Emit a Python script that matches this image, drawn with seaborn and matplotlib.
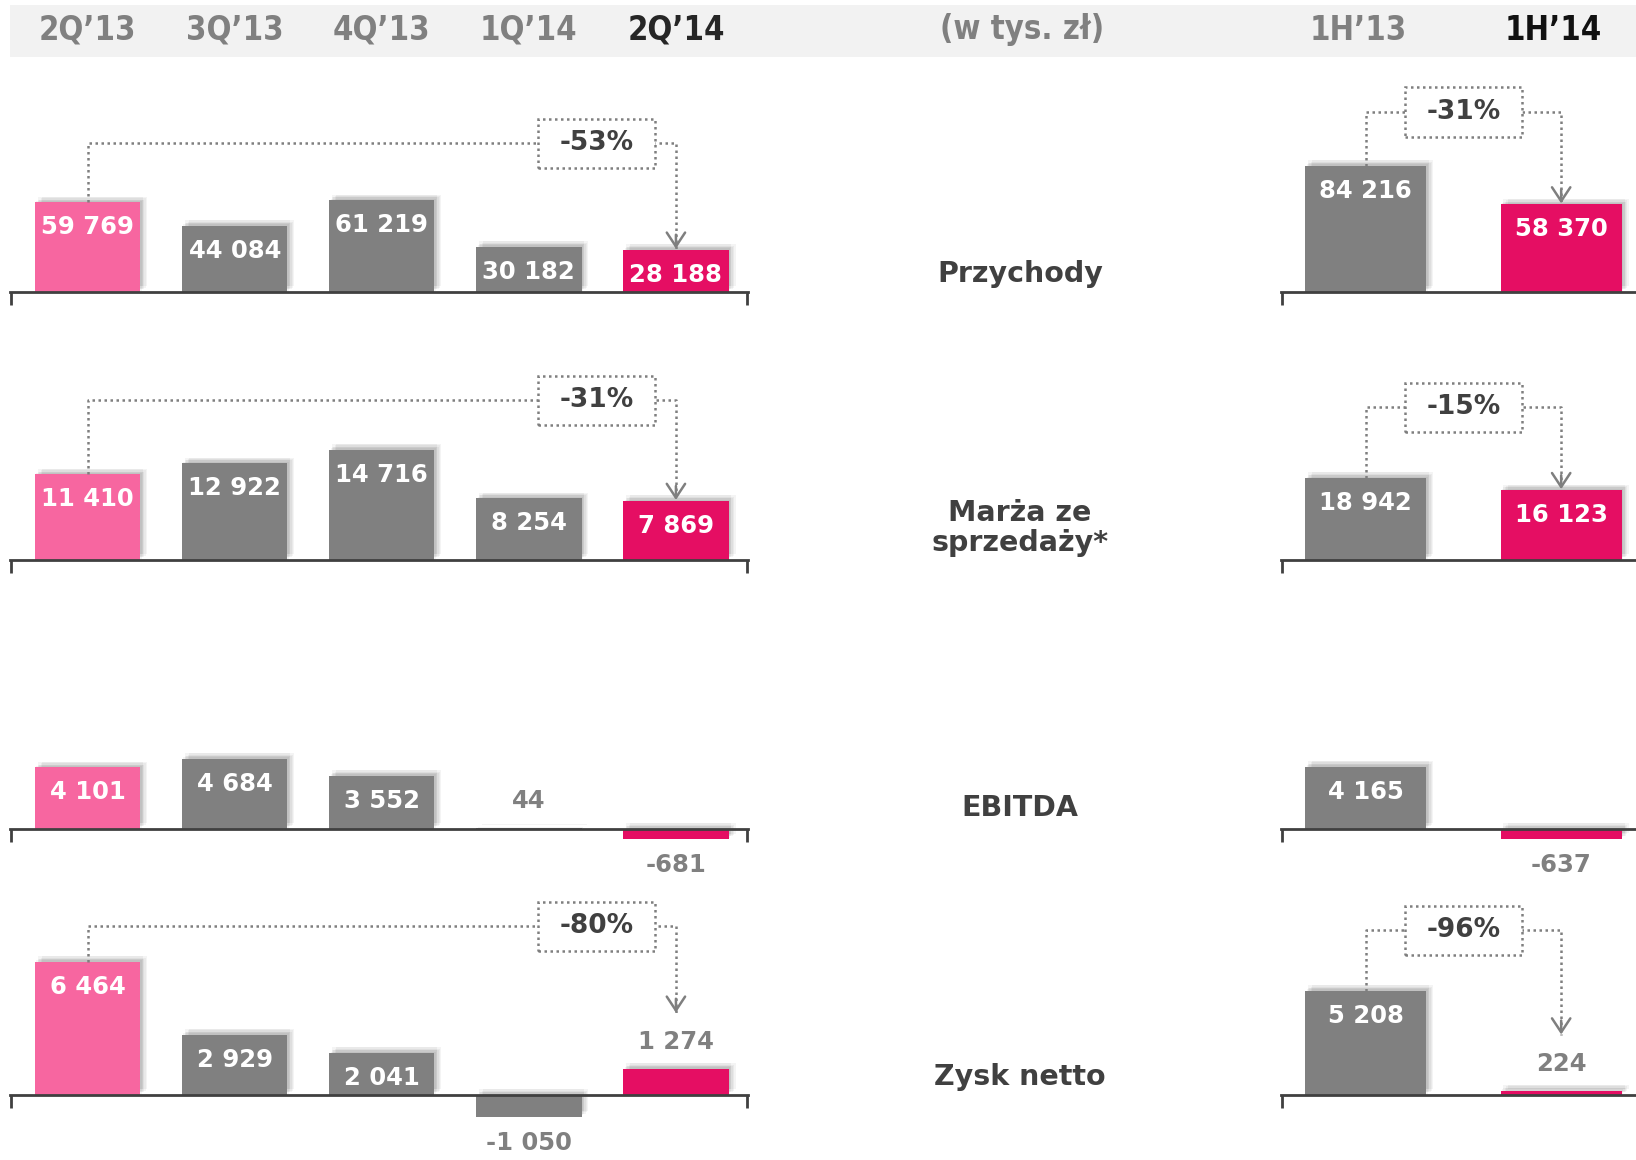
import numpy as np
import pandas as pd
import matplotlib
matplotlib.use("Agg")
import matplotlib.pyplot as plt
import matplotlib.patheffects as pe
from matplotlib.patches import Rectangle
from matplotlib import transforms
import seaborn as sns

# dane (w tys. zł)
kwartaly = ["2Q’13", "3Q’13", "4Q’13", "1Q’14", "2Q’14"]
polrocza = ["1H’13", "1H’14"]
wskazniki = ["Przychody", "Marża ze\nsprzedaży*", "EBITDA", "Zysk netto"]

przychody_q = [59769, 44084, 61219, 30182, 28188]
marza_q = [11410, 12922, 14716, 8254, 7869]
ebitda_q = [4101, 4684, 3552, 44, -681]
zysk_q = [6464, 2929, 2041, -1050, 1274]

przychody_h = [84216, 58370]
marza_h = [18942, 16123]
ebitda_h = [4165, -637]
zysk_h = [5208, 224]

zmiana_q = ["-53%", "-31%", None, "-80%"]
zmiana_h = ["-31%", "-15%", None, "-96%"]

# kolory
ROZ = "#f766a0"
MAGENTA = "#e50e63"
SZARY = "#808080"
CIEMNY = "#404040"
LINIA = "#7f7f7f"
kolory_q = [ROZ, SZARY, SZARY, SZARY, MAGENTA]
kolory_h = [SZARY, MAGENTA]

W, H = 1636, 1160
sns.set_style("white")
plt.rcParams["font.family"] = ["DejaVu Sans"]

fig = plt.figure(figsize=(W / 100, H / 100), dpi=100)

# uklad wierszy (piksele)
wiersze = [
    dict(base=292, up=240, down=30, s_q=1.5, s_h=1.5, lev_q=149, lev_h=180, ly=274),
    dict(base=560, up=230, down=30, s_q=7.5, s_h=4.33, lev_q=160, lev_h=153, ly=528),
    dict(base=829, up=150, down=60, s_q=15.0, s_h=15.0, lev_q=0, lev_h=0, ly=808),
    dict(base=1095, up=240, down=65, s_q=20.6, s_h=20.0, lev_q=169, lev_h=165, ly=1077),
]
dane_q = [przychody_q, marza_q, ebitda_q, zysk_q]
dane_h = [przychody_h, marza_h, ebitda_h, zysk_h]

LEWY = dict(x0=10.4, x1=748, xlim=(-0.525, 4.49), width=0.716, ticks=[-0.52, 4.485])
PRAWY = dict(x0=1281, x1=1636, xlim=(-0.434, 1.383), width=0.62, ticks=[-0.43])

# miekki cien slupkow
cien = [pe.SimplePatchShadow(offset=(dx, dy), shadow_rgbFace="black", alpha=0.045)
        for dx, dy in [(1, 1), (2, 2), (3, 2), (4, 3), (5, 4), (2, 4)]]


def panel(row, cfg, cats, vals, colors, s):
    base, up, down = row["base"], row["up"], row["down"]
    ax = fig.add_axes([cfg["x0"] / W, (H - base - down) / H,
                       (cfg["x1"] - cfg["x0"]) / W, (up + down) / H])
    ax.patch.set_alpha(0)
    df = pd.DataFrame({"okres": cats, "wartosc": vals})
    sns.barplot(data=df, x="okres", y="wartosc", hue="okres", order=cats,
                hue_order=cats, palette=colors, width=cfg["width"],
                saturation=1, errorbar=None, legend=False, ax=ax)
    for p in ax.patches:
        p.set_linewidth(0)
        p.set_path_effects(cien + [pe.Normal()])
    ax.set_xlim(*cfg["xlim"])
    ax.set_ylim(-down / s * 1000, up / s * 1000)
    for sp in ["top", "right", "left"]:
        ax.spines[sp].set_visible(False)
    ax.spines["bottom"].set_position(("data", 0))
    ax.spines["bottom"].set_color(CIEMNY)
    ax.spines["bottom"].set_linewidth(2)
    ax.spines["bottom"].set_zorder(6)
    ax.set_xticks(cfg["ticks"])
    ax.set_xticklabels([])
    ax.tick_params(axis="x", bottom=True, length=9, width=2, color=CIEMNY,
                   direction="out")
    ax.set_yticks([])
    ax.set_xlabel("")
    ax.set_ylabel("")

    for i, v in enumerate(vals):
        txt = f"{v:,}".replace(",", " ")
        h_px = abs(v) * s / 1000
        if v > 0 and h_px >= 40:
            off, col = -25, "white"
        elif v > 0:
            off, col = 27, SZARY
        else:
            off, col = -26, SZARY
        ax.annotate(txt, (i, v), xytext=(0, off), textcoords="offset pixels",
                    ha="center", va="center", fontsize=17.5, fontweight="bold",
                    color=col, zorder=7)
    return ax


def klamra(ax, vals, i0, i1, box_x, lev_px, s, px_unit, text):
    to_d = lambda px: px / s * 1000
    level = to_d(lev_px)
    v1 = vals[i1]
    tip = v1 + (to_d(55) if v1 * s / 1000 < 40 else 0) + to_d(1)
    kropki = (0, (1, 1.4))
    ax.plot([i0, i0, i1, i1], [vals[i0], level, level, tip], color=LINIA, lw=1.8,
            ls=kropki, zorder=3)
    bw = 117 / px_unit
    bh = to_d(49)
    ax.add_patch(Rectangle((box_x - bw / 2, level - bh / 2), bw, bh, facecolor="white",
                           edgecolor=LINIA, lw=1.8, ls=kropki, zorder=4))
    ax.text(box_x, level, text, ha="center", va="center", fontsize=19,
            fontweight="bold", color=CIEMNY, zorder=5)
    ax.annotate("", xy=(i1, tip), xytext=(i1, tip + to_d(14)),
                arrowprops=dict(arrowstyle="->,head_length=0.5,head_width=0.33",
                                mutation_scale=20, color=LINIA, lw=1.8,
                                shrinkA=0, shrinkB=0), zorder=5)


osie_q = []
osie_h = []
for r, row in enumerate(wiersze):
    axq = panel(row, LEWY, kwartaly, dane_q[r], kolory_q, row["s_q"])
    axh = panel(row, PRAWY, polrocza, dane_h[r], kolory_h, row["s_h"])
    osie_q.append(axq)
    osie_h.append(axh)
    if zmiana_q[r]:
        klamra(axq, dane_q[r], 0, 4, 3.46, row["lev_q"], row["s_q"], 147.1, zmiana_q[r])
    if zmiana_h[r]:
        klamra(axh, dane_h[r], 0, 1, 0.5, row["lev_h"], row["s_h"], 195.3, zmiana_h[r])
    fig.text(1020 / W, 1 - row["ly"] / H, wskazniki[r], ha="center", va="center",
             fontsize=20.5, fontweight="bold", color=CIEMNY, linespacing=1.1)

# naglowek
fig.add_artist(Rectangle((10.4 / W, 1 - 57.4 / H), 1 - 10.4 / W, 52.2 / H,
                         transform=fig.transFigure, facecolor="#f2f2f2",
                         edgecolor="none", zorder=0))
y_nagl = 1 - 30 / H
tr_q = transforms.blended_transform_factory(osie_q[0].transData, fig.transFigure)
tr_h = transforms.blended_transform_factory(osie_h[0].transData, fig.transFigure)
for i, k in enumerate(kwartaly):
    osie_q[0].text(i, y_nagl, k, transform=tr_q, ha="center", va="center",
                   fontsize=23.5, fontweight="bold", fontstretch="condensed",
                   color="#262626" if i == len(kwartaly) - 1 else SZARY, clip_on=False)
for i, k in enumerate(polrocza):
    osie_h[0].text(i - 0.04, y_nagl, k, transform=tr_h, ha="center", va="center",
                   fontsize=23.5, fontweight="bold", fontstretch="condensed",
                   color="#111111" if i == len(polrocza) - 1 else SZARY, clip_on=False)
fig.text(1022 / W, y_nagl, "(w tys. zł)", ha="center", va="center", fontsize=23.5,
         fontweight="bold", fontstretch="condensed", color=SZARY)

fig.savefig("out.png", dpi=100)
